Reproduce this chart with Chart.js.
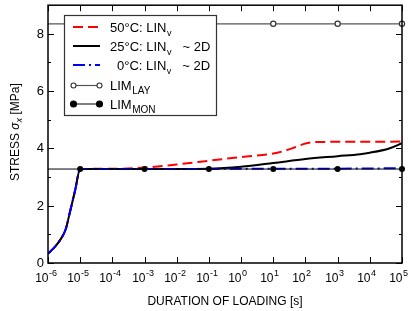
<!DOCTYPE html>
<html>
<head>
<meta charset="utf-8">
<script src="https://cdn.jsdelivr.net/npm/chart.js@4/dist/chart.umd.min.js"></script>
<style>
  body { margin: 0; background: #fff; }
  canvas { display: block; }
</style>
</head>
<body>
<canvas id="stressChart" width="411" height="311" style="width:411px;height:311px"></canvas>
<script>
// Values (x in seconds, y in MPa)
const riseX = [1e-6, 1.48e-6, 2.34e-6, 3.55e-6, 4.79e-6, 6.92e-6, 1e-5];
const riseY = [0.33, 0.51, 0.79, 1.18, 1.77, 2.52, 3.28];

const hot50X = [1e-4, 1e-3, 1e-2, 1e-1, 1, 10, 20, 50, 100, 200, 1e3, 1e4, 1e5];
const hot50Y = [3.29, 3.33, 3.44, 3.57, 3.70, 3.82, 3.90, 4.05, 4.17, 4.22, 4.23, 4.23, 4.24];

const mid25X = [1e-4, 1e-2, 1e-1, 1, 10, 100, 1e3, 5e3, 1e4, 4e4, 1e5];
const mid25Y = [3.28, 3.28, 3.29, 3.36, 3.49, 3.63, 3.73, 3.80, 3.85, 4.00, 4.18];

const cold0X = [1e-4, 1e-2, 1, 100, 1e4, 1e5];
const cold0Y = [3.28, 3.28, 3.29, 3.29, 3.30, 3.31];

const limLayX = [1e-6, 10, 1e3, 1e5];
const limLayY = [8.35, 8.35, 8.35, 8.35];
const limMonX = [1e-6, 1e-5, 1e-3, 1e-1, 10, 1e3, 1e5];
const limMonY = [3.28, 3.28, 3.28, 3.28, 3.28, 3.28, 3.28];

const xTickExps = [-6, -5, -4, -3, -2, -1, 0, 1, 2, 3, 4, 5];
const yMajor = [0, 2, 4, 6, 8];
const yMinor = [1, 3, 5, 7];

const xTitle = 'DURATION OF LOADING [s]';
const legendText = [
    { main: '50°C: LIN', sub: 'v', post: '' },
    { main: '25°C: LIN', sub: 'v', post: '~ 2D' },
    { main: '0°C: LIN', sub: 'v', post: '~ 2D' },
    { main: 'LIM', sub: 'LAY', post: '' },
    { main: 'LIM', sub: 'MON', post: '' }
];

const FONT = '"Liberation Sans", Arial, sans-serif';

function pts(xs, ys) {
    return xs.map((x, i) => ({ x: x, y: ys[i] }));
}

const styles = [
    { color: '#ff0000', width: 2, dash: [10, 5] },
    { color: '#000000', width: 2, dash: [] },
    { color: '#0000ff', width: 2, dash: [12, 4, 2, 4] },
    { color: '#555555', width: 1.2, dash: [], open: true },
    { color: '#000000', width: 1, dash: [], filled: true }
];

const datasets = [
    {
        label: '50°C', data: pts(riseX.concat(hot50X), riseY.concat(hot50Y)),
        borderColor: styles[0].color, borderWidth: 2, borderDash: styles[0].dash,
        pointRadius: 0, cubicInterpolationMode: 'monotone', order: 3
    },
    {
        label: '25°C', data: pts(riseX.concat(mid25X), riseY.concat(mid25Y)),
        borderColor: styles[1].color, borderWidth: 2,
        pointRadius: 0, cubicInterpolationMode: 'monotone', order: 2
    },
    {
        label: '0°C', data: pts(riseX.concat(cold0X), riseY.concat(cold0Y)),
        borderColor: styles[2].color, borderWidth: 2, borderDash: styles[2].dash,
        pointRadius: 0, cubicInterpolationMode: 'monotone', order: 1
    },
    {
        label: 'LIM_LAY', data: pts(limLayX, limLayY),
        borderColor: styles[3].color, borderWidth: 1.2,
        pointRadius: [0, 2.6, 2.6, 2.6], pointBackgroundColor: '#fff',
        pointBorderColor: '#333', pointBorderWidth: 1.2, clip: false, order: 4
    },
    {
        label: 'LIM_MON', data: pts(limMonX, limMonY),
        borderColor: styles[4].color, borderWidth: 1,
        pointRadius: [0, 3, 3, 3, 3, 3, 3], pointBackgroundColor: '#000',
        pointBorderColor: '#000', pointBorderWidth: 0, clip: false, order: 0
    }
];

// Frame, ticks, labels and legend drawn by hand for super/subscripts
const decorPlugin = {
    id: 'decor',
    afterDraw(chart) {
        const ctx = chart.ctx;
        const a = chart.chartArea;
        const xs = chart.scales.x, ys = chart.scales.y;
        ctx.save();

        // frame
        ctx.strokeStyle = '#000';
        ctx.lineWidth = 1.5;
        ctx.setLineDash([]);
        ctx.strokeRect(a.left, a.top, a.right - a.left, a.bottom - a.top);

        // x ticks + labels
        ctx.lineWidth = 1;
        ctx.fillStyle = '#000';
        xTickExps.forEach(e => {
            const px = Math.round(xs.getPixelForValue(Math.pow(10, e))) + 0.5;
            ctx.beginPath();
            ctx.moveTo(px, a.bottom); ctx.lineTo(px, a.bottom - 6);
            ctx.moveTo(px, a.top); ctx.lineTo(px, a.top + 6);
            ctx.stroke();
            ctx.textBaseline = 'alphabetic';
            ctx.font = '12px ' + FONT;
            ctx.textAlign = 'right';
            ctx.fillText('10', px, 282);
            ctx.font = '9px ' + FONT;
            ctx.textAlign = 'left';
            ctx.fillText(String(e), px + 0.5, 276);
        });

        // y ticks + labels
        ctx.textAlign = 'right';
        ctx.textBaseline = 'middle';
        ctx.font = '13px ' + FONT;
        yMajor.forEach(v => {
            const py = Math.round(ys.getPixelForValue(v)) + 0.5;
            ctx.beginPath();
            ctx.moveTo(a.left, py); ctx.lineTo(a.left + 6, py);
            ctx.moveTo(a.right, py); ctx.lineTo(a.right - 6, py);
            ctx.stroke();
            ctx.fillText(String(v), a.left - 4, py);
        });
        yMinor.forEach(v => {
            const py = Math.round(ys.getPixelForValue(v)) + 0.5;
            ctx.beginPath();
            ctx.moveTo(a.left, py); ctx.lineTo(a.left + 3, py);
            ctx.moveTo(a.right, py); ctx.lineTo(a.right - 3, py);
            ctx.stroke();
        });

        // x title
        ctx.font = '12px ' + FONT;
        ctx.textAlign = 'center';
        ctx.textBaseline = 'alphabetic';
        ctx.fillText(xTitle, (a.left + a.right) / 2, 305);

        // y title with italic sigma and subscript
        ctx.save();
        ctx.translate(16, (a.top + a.bottom) / 2 - 2);
        ctx.rotate(-Math.PI / 2);
        ctx.textAlign = 'left';
        ctx.textBaseline = 'middle';
        const parts = [
            { t: 'STRESS ', f: '12px ' + FONT, dy: 0 },
            { t: 'σ', f: 'italic 12px ' + FONT, dy: 0 },
            { t: 'x', f: 'italic 9px ' + FONT, dy: 3 },
            { t: ' [MPa]', f: '12px ' + FONT, dy: 0 }
        ];
        let total = 0;
        parts.forEach(p => { ctx.font = p.f; p.w = ctx.measureText(p.t).width; total += p.w; });
        let cx = -total / 2;
        parts.forEach(p => { ctx.font = p.f; ctx.fillText(p.t, cx, p.dy); cx += p.w; });
        ctx.restore();

        // legend box
        ctx.fillStyle = '#fff';
        ctx.fillRect(64, 15, 153, 101);
        ctx.strokeStyle = '#333';
        ctx.lineWidth = 1.2;
        ctx.strokeRect(64.5, 15.5, 152, 100);

        const rowY = [27, 46, 65, 85.5, 104];
        const indent = [0, 0, 7, 0, 0];
        legendText.forEach((item, i) => {
            const s = styles[i];
            const y = rowY[i];
            ctx.strokeStyle = s.color;
            ctx.lineWidth = s.width;
            ctx.setLineDash(s.dash);
            ctx.beginPath();
            ctx.moveTo(73, y); ctx.lineTo(100, y);
            ctx.stroke();
            ctx.setLineDash([]);
            if (s.open || s.filled) {
                [73.5, 99.5].forEach(mx => {
                    ctx.beginPath();
                    ctx.arc(mx, y, s.open ? 2.5 : 3, 0, Math.PI * 2);
                    ctx.fillStyle = s.open ? '#fff' : '#000';
                    ctx.fill();
                    ctx.strokeStyle = s.open ? '#333' : '#000';
                    ctx.lineWidth = 1.1;
                    ctx.stroke();
                });
            }
            ctx.fillStyle = '#000';
            ctx.textAlign = 'left';
            ctx.textBaseline = 'alphabetic';
            let tx = 110 + indent[i];
            ctx.font = '13px ' + FONT;
            ctx.fillText(item.main, tx, y + 4.5);
            tx += ctx.measureText(item.main).width + 0.5;
            ctx.font = (item.sub === 'v' ? '9px ' : '10px ') + FONT;
            ctx.fillText(item.sub, tx, y + 8.5);
            tx += ctx.measureText(item.sub).width;
            if (item.post) {
                ctx.font = '13px ' + FONT;
                ctx.fillText(item.post, tx + 11, y + 4.5);
            }
        });

        ctx.restore();
    }
};

new Chart(document.getElementById('stressChart'), {
    type: 'line',
    data: { datasets: datasets },
    options: {
        responsive: false,
        animation: false,
        devicePixelRatio: 1,
        layout: { padding: { left: 48, right: 9, top: 2, bottom: 48 } },
        plugins: { legend: { display: false }, tooltip: { enabled: false } },
        elements: { line: { tension: 0 } },
        scales: {
            x: { type: 'logarithmic', min: 1e-6, max: 1e5, display: false },
            y: { type: 'linear', min: 0, max: 9, display: false }
        }
    },
    plugins: [decorPlugin]
});
</script>
</body>
</html>
